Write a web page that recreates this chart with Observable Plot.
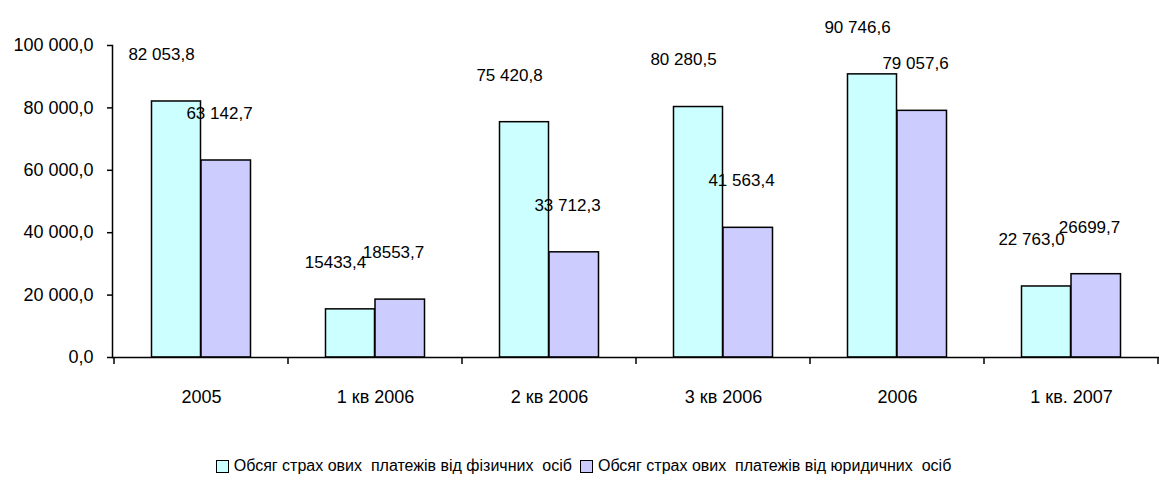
<!DOCTYPE html>
<html><head><meta charset="utf-8">
<script src="https://cdn.jsdelivr.net/npm/d3@7"></script>
<script src="https://cdn.jsdelivr.net/npm/@observablehq/plot@0.6"></script>
<style>
body{margin:0;background:#fff;font-family:"Liberation Sans",Arial,sans-serif;}
#legend{display:flex;justify-content:center;align-items:center;margin-top:16px;font-size:16px;line-height:20px;white-space:pre;color:#000;}
.sw{display:inline-block;width:11px;height:11px;border:1px solid #000;margin:0 5px 0 8px;}
</style></head><body><div id="chart"></div><div id="legend"></div>
<script>
const categories = ["2005","1 кв 2006","2 кв 2006","3 кв 2006","2006","1 кв. 2007"];
const physical = [82053.8,15433.4,75420.8,80280.5,90746.6,22763.0];
const legal = [63142.7,18553.7,33712.3,41563.4,79057.6,26699.7];
const physicalLabels = ["82 053,8","15433,4","75 420,8","80 280,5","90 746,6","22 763,0"];
const legalLabels = ["63 142,7","18553,7","33 712,3","41 563,4","79 057,6","26699,7"];
const seriesNames = ["Обсяг страх ових  платежів від фізичних  осіб","Обсяг страх ових  платежів від юридичних  осіб"];
const seriesColors = ["#CCFFFF","#CCCCFF"];
const yTicks = [0,20000,40000,60000,80000,100000];

const phys = categories.map((c,i)=>({cat:c, value:physical[i], label:physicalLabels[i]}));
const leg = categories.map((c,i)=>({cat:c, value:legal[i], label:legalLabels[i]}));
const fmt = d3.formatLocale({decimal:",", thousands:" ", grouping:[3], currency:["",""]}).format(",.1f");

const chart = Plot.plot({
  width:1159, height:440,
  marginLeft:112, marginRight:0, marginTop:45, marginBottom:83,
  style:{fontFamily:"Liberation Sans, Arial, sans-serif", fontSize:"18px", color:"#000", background:"#fff"},
  x:{domain:categories, padding:0, label:null},
  y:{domain:[0,100000], label:null},
  marks:[
    Plot.barY(phys,{x:"cat", y:"value", fill:seriesColors[0], stroke:"#000", strokeWidth:1.5, insetLeft:37.5, insetRight:87.5}),
    Plot.barY(leg,{x:"cat", y:"value", fill:seriesColors[1], stroke:"#000", strokeWidth:1.5, insetLeft:87, insetRight:37.5}),
    Plot.text(phys,{x:"cat", y:"value", text:"label", dx:-40, dy:-47, fontSize:17, fill:"#000"}),
    Plot.text(leg,{x:"cat", y:"value", text:"label", dx:18, dy:-47, fontSize:17, fill:"#000"}),
    Plot.frame({anchor:"left", stroke:"#000", strokeWidth:1.5}),
    Plot.ruleY([0],{stroke:"#000", strokeWidth:1.5}),
    Plot.axisY({ticks:yTicks, tickFormat:fmt, tickSize:5, tickPadding:14, fontSize:18, label:null, strokeWidth:1.5}),
    Plot.axisX({tickSize:0, tickPadding:33, fontSize:18, label:null})
  ]
});
document.getElementById("chart").appendChild(chart);

const sx = chart.scale("x"), sy = chart.scale("y");
const y0 = sy.apply(0);
const bounds = categories.map(c=>sx.apply(c)).concat([sx.apply(categories[categories.length-1])+sx.bandwidth]);
d3.select(chart).append("g").selectAll("line").data(bounds).join("line")
  .attr("x1",d=>Math.min(d,1158)).attr("x2",d=>Math.min(d,1158))
  .attr("y1",y0).attr("y2",y0+7).attr("stroke","#000").attr("stroke-width",1.5);

const lg = document.getElementById("legend");
seriesNames.forEach((n,i)=>{
  const s=document.createElement("span"); s.className="sw"; s.style.background=seriesColors[i]; lg.appendChild(s);
  const t=document.createElement("span"); t.textContent=n; lg.appendChild(t);
});
</script></body></html>
